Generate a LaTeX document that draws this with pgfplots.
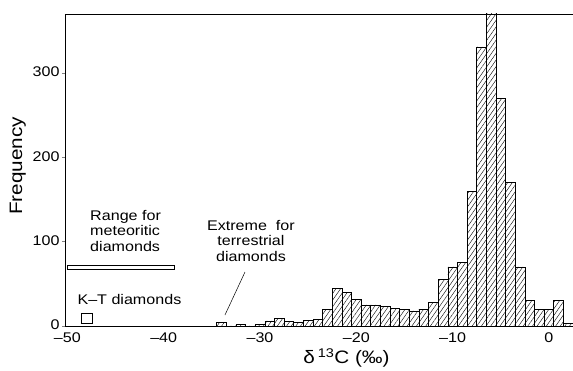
\documentclass[border=0pt]{standalone}
\usepackage{fontspec}
\setmainfont{Liberation Sans}[FakeStretch=1.15]
\usepackage{pgfplots}
\pgfplotsset{compat=1.18}
\usetikzlibrary{patterns.meta}
\pgfplotstableread{
x y
-34.5 4
-33.5 0
-32.5 2
-31.5 0
-30.5 2
-29.5 6
-28.5 9
-27.5 5
-26.5 4
-25.5 7
-24.5 8
-23.5 20
-22.5 45
-21.5 40
-20.5 32
-19.5 25
-18.5 25
-17.5 23
-16.5 21
-15.5 20
-14.5 18
-13.5 20
-12.5 28
-11.5 55
-10.5 70
-9.5 75
-8.5 160
-7.5 331
-6.5 375
-5.5 270
-4.5 170
-3.5 70
-2.5 30
-1.5 20
-0.5 20
0.5 30
1.5 3
2.5 3
}\histdata
\begin{document}
\begin{tikzpicture}
\begin{axis}[
  name=ax,
  scale only axis, width=508pt, height=312pt,
  xmin=-50.25, xmax=2.5, ymin=0, ymax=370,
  axis lines*=left,
  axis line style={line width=0.7pt},
  xtick={-50,-40,-30,-20,-10,0},
  xticklabels={--50,--40,--30,--20,--10,0},
  ytick={0,100,200,300},
  yticklabels={0,100,200,300},
  tick align=outside,
  major tick length=3pt,
  xtick style={draw=none},
  ytick style={line width=0.6pt},
  tick label style={font=\fontsize{14}{14}\selectfont},
  xticklabel style={yshift=0pt},
  yticklabel style={xshift=1pt, yshift=1pt},
  xlabel={δ\,\textsuperscript{13}C (‰)},
  ylabel={Frequency},
  every axis x label/.style={at={(ticklabel cs:0.554)}, anchor=near ticklabel, yshift=1pt, font=\fontsize{18}{18}\selectfont},
  every axis y label/.style={at={(ticklabel cs:0.52)}, rotate=90, anchor=near ticklabel, xshift=-2pt, font=\fontsize{18}{18}\selectfont},
  clip=true,
]
\addplot[ybar interval, draw=black, line width=0.6pt,
  pattern={Lines[angle=55,distance=3.8pt,line width=0.4pt]}]
  table[x=x,y=y] {\histdata};
% top frame line
\addplot[black, line width=0.7pt, forget plot] coordinates {(-50.25,370) (2.5,370)};
% meteoritic range bar
\addplot[black, line width=0.7pt, fill=white] coordinates {(-50,67.5) (-38.9,67.5) (-38.9,72) (-50,72) (-50,67.5)};
% K-T diamonds box
\addplot[black, line width=0.7pt] coordinates {(-48.6,3) (-47.45,3) (-47.45,15) (-48.6,15) (-48.6,3)};
% pointer line
\addplot[black, line width=0.5pt] coordinates {(-31.56,64) (-33.64,13)};
\node[anchor=west, align=left, font=\fontsize{14}{15.5}\selectfont, inner sep=0pt] at (axis cs:-47.65,112.7) {Range for\\meteoritic\\diamonds};
\node[anchor=west, font=\fontsize{14}{15.5}\selectfont, inner sep=0pt] at (axis cs:-48.97,32) {K--T diamonds};
\node[align=center, font=\fontsize{14}{15.5}\selectfont, inner sep=0pt] at (axis cs:-30.94,100.8) {Extreme\ \ for\\terrestrial\\diamonds};
\end{axis}
\pgfresetboundingbox
\path[use as bounding box] ([xshift=-65pt,yshift=-45pt]ax.south west) rectangle ([yshift=14pt]ax.north east);
\end{tikzpicture}
\end{document}
